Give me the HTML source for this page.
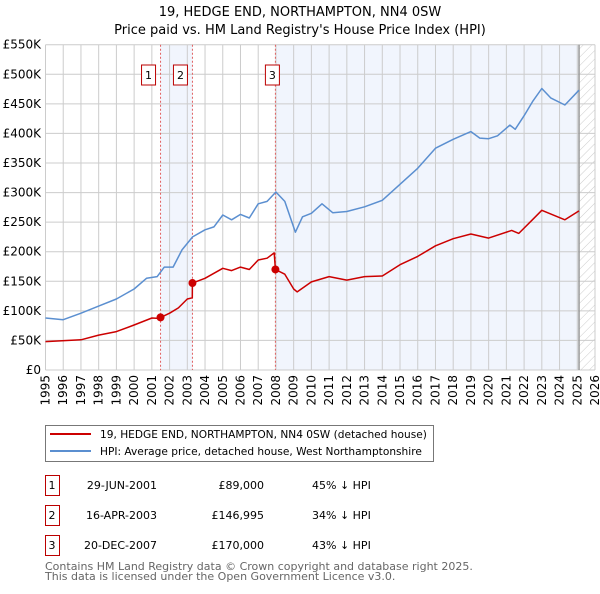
<!DOCTYPE html>
<html><head><meta charset="utf-8"><style>
body{margin:0;background:#fff;font-family:"DejaVu Sans","Liberation Sans",sans-serif;}
svg text{font-family:"DejaVu Sans","Liberation Sans",sans-serif;}
</style></head><body>
<svg id="c" width="600" height="590" xmlns="http://www.w3.org/2000/svg">
<defs><pattern id="hatch" width="6" height="6" patternUnits="userSpaceOnUse" patternTransform="rotate(45)"><line x1="0" y1="0" x2="0" y2="6" stroke="#ccc" stroke-width="1"/></pattern></defs>
<text x="300" y="16" text-anchor="middle" font-size="13">19, HEDGE END, NORTHAMPTON, NN4 0SW</text>
<text x="300" y="34" text-anchor="middle" font-size="13">Price paid vs. HM Land Registry's House Price Index (HPI)</text>
<g id="plot"></g>
<g>
<rect x="45.5" y="425.5" width="388" height="36" fill="#fff" stroke="#777"/>
<line x1="50" y1="434" x2="91" y2="434" stroke="#cc0000" stroke-width="2"/>
<text x="100" y="438" font-size="10.6">19, HEDGE END, NORTHAMPTON, NN4 0SW (detached house)</text>
<line x1="50" y1="451" x2="91" y2="451" stroke="#5b8fd0" stroke-width="2"/>
<text x="100" y="455" font-size="10.6">HPI: Average price, detached house, West Northamptonshire</text>
</g>
<g id="table"></g>
<text x="45" y="570" font-size="11" fill="#666">Contains HM Land Registry data © Crown copyright and database right 2025.</text>
<text x="45" y="580" font-size="11" fill="#666">This data is licensed under the Open Government Licence v3.0.</text>
</svg>
<script>
const hpiYears=[1995,1996,1997,1998,1999,2000,2000.7,2001.3,2001.7,2002.2,2002.7,2003.3,2004,2004.5,2005,2005.5,2006,2006.5,2007,2007.5,2008,2008.5,2009.1,2009.5,2010,2010.6,2011.2,2012,2013,2014,2015,2016,2017,2018,2019,2019.5,2020,2020.5,2021.2,2021.5,2022,2022.5,2023,2023.5,2024.3,2025.1];
const hpiValues=[88,85,96,108,120,137,155,158,174,174,203,225,237,242,262,254,263,257,281,285,301,285,233,259,265,281,266,268,276,287,314,341,375,390,403,392,391,396,414,407,430,455,476,460,448,473];
const ppYears=[1995,1997,1998,1999,2000,2001,2001.49,2001.5,2002,2002.5,2003,2003.28,2003.29,2004,2005,2005.5,2006,2006.5,2007,2007.5,2007.9,2007.97,2008.5,2009,2009.2,2010,2011,2012,2013,2014,2015,2016,2017,2018,2019,2020,2021.3,2021.7,2022.5,2023,2024.3,2025.1];
const ppValues=[48,51,59,65,76,88,87,89,96,105,120,122,147,155,172,168,174,170,186,189,198,170,162,137,132,149,158,152,158,159,178,192,210,222,230,223,236,231,255,270,254,269];
const saleYears=[2001.49,2003.29,2007.97];
const saleValues=[89,146.995,170];
const saleLabels=["1","2","3"];
const saleDates=["29-JUN-2001","16-APR-2003","20-DEC-2007"];
const salePrices=["£89,000","£146,995","£170,000"];
const saleDiffs=["45% ↓ HPI","34% ↓ HPI","43% ↓ HPI"];
const yTicks=[0,50,100,150,200,250,300,350,400,450,500,550];
const yTickLabels=["£0","£50K","£100K","£150K","£200K","£250K","£300K","£350K","£400K","£450K","£500K","£550K"];
const xTicks=[1995,1996,1997,1998,1999,2000,2001,2002,2003,2004,2005,2006,2007,2008,2009,2010,2011,2012,2013,2014,2015,2016,2017,2018,2019,2020,2021,2022,2023,2024,2025,2026];

const X0=45.5,X1=595,Y0=370,Y1=44.7;
const xs=y=>X0+(y-1995)/31*(X1-X0);
const ys=v=>Y0-v/550*(Y0-Y1);
const NS="http://www.w3.org/2000/svg";
const plot=document.getElementById('plot');
function mk(tag,attrs,parent){const e=document.createElementNS(NS,tag);for(const k in attrs)e.setAttribute(k,attrs[k]);(parent||plot).appendChild(e);return e;}
let r;
r=mk('rect',{x:xs(2001.49),y:Y1,width:xs(2003.29)-xs(2001.49),height:Y0-Y1,fill:'#f1f5fd'});


r=mk('rect',{x:xs(2007.97),y:Y1,width:xs(2025.1)-xs(2007.97),height:Y0-Y1,fill:'#f1f5fd'});


r=mk('rect',{x:xs(2025.1),y:Y1,width:X1-xs(2025.1),height:Y0-Y1,fill:'url(#hatch)'});


xTicks.forEach((t,i)=>{
 const l=mk('line',{x1:xs(t),x2:xs(t),y1:Y1,y2:Y0,stroke:'#ccc','stroke-width':1});
 
 
 const tx=mk('text',{x:0,y:0,'font-size':12,'text-anchor':'end',transform:`translate(${xs(t)+4},${Y0+5}) rotate(-90)`});
 tx.textContent=t;
 
 
});
yTicks.forEach((t,i)=>{
 const l=mk('line',{x1:X0,x2:X1,y1:ys(t),y2:ys(t),stroke:'#ccc','stroke-width':1});
 
 
 const tx=mk('text',{x:41,y:ys(t)+4,'font-size':12,'text-anchor':'end'});
 tx.textContent=yTickLabels[i];
 
 
});
r=mk('line',{x1:xs(2025.1),x2:xs(2025.1),y1:Y1,y2:Y0,stroke:'#999','stroke-width':1.5});


saleYears.forEach((s,i)=>{
 const l=mk('line',{x1:xs(s),x2:xs(s),y1:Y1,y2:Y0,stroke:'#e06060','stroke-width':1,'stroke-dasharray':'2,2'});
 
 
 const b=mk('rect',{x:xs(s)-19,y:65,width:14,height:20,fill:'#fff',stroke:'#b00'});
 if(i==2)b.setAttribute('x',xs(s)-10);
 
 
 const t=mk('text',{x:+b.getAttribute('x')+7,y:79,'font-size':11,'text-anchor':'middle'});
 t.textContent=saleLabels[i];
 
 
});
function path(xa,va,color,name){
 const d=xa.map((x,i)=>(i?'L':'M')+xs(x).toFixed(1)+','+ys(va[i]).toFixed(1)).join('');
 const p=mk('path',{d,fill:'none',stroke:color,'stroke-width':1.5,'stroke-linejoin':'round'});
 
 
}
path(hpiYears,hpiValues,'#5b8fd0','hpi-line');
path(ppYears,ppValues,'#cc0000','price-paid-line');
saleYears.forEach((s,i)=>{
 const c=mk('circle',{cx:xs(s),cy:ys(saleValues[i]),r:4,fill:'#cc0000'});
 
 
});
const tb=document.getElementById('table');
saleLabels.forEach((l,i)=>{
 const y=475+i*30;
 const b=mk('rect',{x:45.5,y:y+0.5,width:14,height:20,fill:'#fff',stroke:'#b00'},tb);
 
 
 const cells=[[52,'middle',l],[157,'end',saleDates[i]],[264,'end',salePrices[i]],[312,'start',saleDiffs[i]]];
 cells.forEach(c=>{const t=mk('text',{x:c[0],y:y+14,'font-size':11,'text-anchor':c[1]},tb);t.textContent=c[2];
 
 });
});
</script>
</body></html>
